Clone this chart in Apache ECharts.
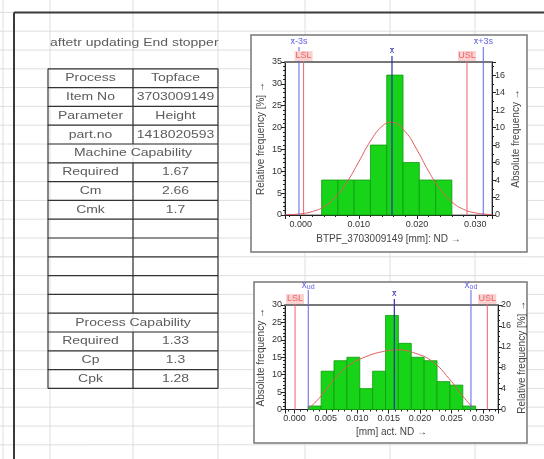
<!DOCTYPE html>
<html>
<head>
<meta charset="utf-8">
<script src="https://cdn.jsdelivr.net/npm/echarts@6/dist/echarts.min.js"></script>
<style>
  html, body { margin: 0; padding: 0; background: #fff; }
  #main { width: 544px; height: 459px; }
</style>
</head>
<body>
<div id="main"></div>
<script>
// sheet content
const sheetTitle = 'aftetr updating End stopper';
const tableLabels = ['Process', 'Item No', 'Parameter', 'part.no', 'Machine Capability', 'Required', 'Cm', 'Cmk',
  '', '', '', '', '', 'Process Capability', 'Required', 'Cp', 'Cpk'];
const tableValues = ['Topface', '3703009149', 'Height', '1418020593', null, '1.67', '2.66', '1.7',
  '', '', '', '', '', null, '1.33', '1.3', '1.28'];

// histogram 1 (relative frequency %)
const h1Edges = [0.0036, 0.0064, 0.0092, 0.0120, 0.0148, 0.0176, 0.0204, 0.0232, 0.0260];
const h1Rel = [8, 8, 8, 16, 32, 12, 8, 8];
const h1CurveX = [-0.0027, -0.002, 0, 0.002, 0.004, 0.006, 0.008, 0.010, 0.012, 0.014, 0.0156, 0.018, 0.020, 0.022, 0.024, 0.026, 0.028, 0.030, 0.032, 0.0329];
const h1CurveY = [0.05, 0.08, 0.28, 0.79, 1.94, 4.13, 7.63, 12.2, 16.9, 20.3, 21.2, 19.0, 14.9, 10.0, 5.9, 3.0, 1.3, 0.5, 0.17, 0.1];
const h1LineNames = ['x\u0304-3s', 'LSL', 'x\u0304', 'USL', 'x\u0304+3s'];
const h1LineKinds = ['sig', 'tol', 'mean', 'tol', 'sig'];
const h1LineX = [-0.0003, 0.0005, 0.0157, 0.0286, 0.0314];

// histogram 2 (absolute frequency)
const h2Edges = [0.0022, 0.00425, 0.0063, 0.00835, 0.0104, 0.01245, 0.0145, 0.01655, 0.0186, 0.02065, 0.0227, 0.02475, 0.0268, 0.02885];
const h2Abs = [1, 11, 14, 15, 6, 11, 27, 19, 15, 14, 8, 7, 1];
const h2CurveX = [0.0022, 0.0034, 0.0050, 0.0066, 0.0087, 0.0113, 0.0140, 0.0164, 0.0193, 0.0220, 0.0246, 0.0268, 0.0284];
const h2CurveY = [0.3, 2.2, 5.6, 9.2, 12.7, 15.1, 16.6, 17.1, 16.1, 13.7, 8.9, 3.8, 0.6];
const h2LineNames = ['LSL', '{b|x}{s|ud}', 'x\u0304', '{b|x}{s|od}', 'USL'];
const h2LineKinds = ['tol', 'sig', 'mean', 'sig', 'tol'];
const h2LineX = [0.0001, 0.0022, 0.0159, 0.0281, 0.0307];

const chart = echarts.init(document.getElementById('main'));
const FONT = '"Liberation Sans", Arial, sans-serif';

// spreadsheet background
const rowY = [];
for (let i = 0; i < 24; i++) rowY.push(12.4 + i * 18.8);
const colX = [3, 50, 133, 218, 305, 390, 475];
const els = [];
rowY.forEach(y => els.push({ type: 'line', z: -10, shape: { x1: 0, y1: y, x2: 544, y2: y }, style: { stroke: '#dedede', lineWidth: 1 } }));
colX.forEach(x => els.push({ type: 'line', z: -10, shape: { x1: x, y1: 0, x2: x, y2: 459 }, style: { stroke: '#dedede', lineWidth: 1 } }));
els.push({ type: 'line', z: -9, shape: { x1: 14, y1: 12.4, x2: 544, y2: 12.4 }, style: { stroke: '#3a3a3a', lineWidth: 2 } });
els.push({ type: 'line', z: -9, shape: { x1: 14, y1: 12.4, x2: 14, y2: 459 }, style: { stroke: '#3a3a3a', lineWidth: 2 } });

// sheet text is a little wider than tall in the screenshot
function cellText(x, y, text, align) {
  return {
    type: 'text', x, y, scaleX: 1.27,
    style: { text, fill: '#5c5c5c', font: '11px ' + FONT, textAlign: align || 'center', textVerticalAlign: 'middle' }
  };
}
els.push(cellText(50, 43, sheetTitle, 'left'));

// table
const tL = 48, tM = 133, tR = 218, r0 = 3;
for (let i = 0; i <= tableLabels.length; i++) {
  const y = rowY[r0 + i];
  els.push({ type: 'line', z: -8, shape: { x1: tL, y1: y, x2: tR, y2: y }, style: { stroke: '#333', lineWidth: 1.2 } });
}
const tTop = rowY[r0], tBot = rowY[r0 + tableLabels.length];
els.push({ type: 'line', z: -8, shape: { x1: tL, y1: tTop, x2: tL, y2: tBot }, style: { stroke: '#333', lineWidth: 1.2 } });
els.push({ type: 'line', z: -8, shape: { x1: tR, y1: tTop, x2: tR, y2: tBot }, style: { stroke: '#333', lineWidth: 1.2 } });
tableLabels.forEach((lab, i) => {
  const y0 = rowY[r0 + i], y1 = rowY[r0 + i + 1], ym = (y0 + y1) / 2;
  if (tableValues[i] === null) {
    els.push(cellText((tL + tR) / 2, ym, lab));
  } else {
    els.push({ type: 'line', z: -8, shape: { x1: tM, y1: y0, x2: tM, y2: y1 }, style: { stroke: '#333', lineWidth: 1.2 } });
    els.push(cellText((tL + tM) / 2, ym, lab));
    els.push(cellText((tM + tR) / 2, ym, tableValues[i]));
  }
});

// chart frames
els.push({ type: 'rect', z: -7, shape: { x: 251, y: 35, width: 276, height: 217 }, style: { fill: '#fff', stroke: '#777', lineWidth: 1.5 } });
els.push({ type: 'rect', z: -7, shape: { x: 254, y: 282, width: 273, height: 161 }, style: { fill: '#fff', stroke: '#777', lineWidth: 1.5 } });

function binData(edges, vals) {
  return vals.map((v, i) => [edges[i], edges[i + 1], v]);
}

function renderBar(params, api) {
  const a = api.coord([api.value(0), api.value(2)]);
  const b = api.coord([api.value(1), 0]);
  return {
    type: 'rect',
    shape: { x: a[0], y: a[1], width: b[0] - a[0], height: b[1] - a[1] },
    style: { fill: '#18d418', stroke: '#0c9a0c', lineWidth: 0.8 }
  };
}

function specRenderer(names, kinds) {
  return function (params, api) {
    const i = params.dataIndex;
    const kind = kinds[i];
    const p = api.coord([api.value(0), 0]);
    const top = params.coordSys.y;
    const col = kind === 'tol' ? '#ee6464' : kind === 'mean' ? '#2e2ea8' : '#6262e6';
    const lift = kind === 'sig' ? 15 : kind === 'mean' ? 6 : 10;
    const kids = [{
      type: 'line',
      shape: { x1: p[0], y1: p[1], x2: p[0], y2: top - lift },
      style: { stroke: col, lineWidth: kind === 'mean' ? 1.2 : 1 }
    }];
    let ty = top - 20;
    if (kind === 'tol') {
      kids.push({ type: 'rect', shape: { x: p[0] - 9, y: top - 11, width: 18, height: 10 }, style: { fill: '#fbd2d2' } });
      ty = top - 6;
    } else if (kind === 'mean') {
      ty = top - 11;
    }
    kids.push({
      type: 'text', x: p[0], y: ty,
      style: {
        text: names[i], fill: col, font: '9px ' + FONT, textAlign: 'center', textVerticalAlign: 'middle',
        rich: { b: { fontSize: 10, fontFamily: FONT }, s: { fontSize: 7, fontFamily: FONT, padding: [4, 0, 0, 0] } }
      }
    });
    return { type: 'group', children: kids };
  };
}

const tickText = { color: '#333', fontSize: 9, fontFamily: FONT };
const nameText = { color: '#444', fontSize: 10, fontFamily: FONT };
function valueX(gridIndex, min, max, split, name, gap) {
  return {
    type: 'value', gridIndex, min, max, splitNumber: split,
    name, nameLocation: 'middle', nameGap: gap, nameTextStyle: nameText,
    axisLine: { onZero: false, lineStyle: { color: '#222', width: 1 } },
    axisTick: { length: 4, lineStyle: { color: '#222' } },
    minorTick: { show: true, splitNumber: 5, length: 2, lineStyle: { color: '#222' } },
    axisLabel: Object.assign({ margin: 5, showMinLabel: false, showMaxLabel: false, formatter: v => v.toFixed(3) }, tickText),
    splitLine: { show: false }
  };
}
function topX(gridIndex, min, max) {
  return {
    type: 'value', gridIndex, min, max, position: 'top',
    axisLine: { onZero: false, lineStyle: { color: '#777', width: 2 } },
    axisTick: { show: false }, axisLabel: { show: false }, splitLine: { show: false }
  };
}
function valueY(gridIndex, pos, max, interval, minorSplit, name) {
  return {
    type: 'value', gridIndex, position: pos, min: 0, max, interval,
    name, nameLocation: 'middle', nameRotate: 90, nameGap: 19, nameTextStyle: nameText,
    axisLine: { show: true, onZero: false, lineStyle: { color: '#222', width: 1 } },
    axisTick: { show: true, length: 4, lineStyle: { color: '#222' } },
    minorTick: { show: true, splitNumber: minorSplit, length: 2, lineStyle: { color: '#222' } },
    axisLabel: Object.assign({ margin: 3, showMaxLabel: max % interval === 0 }, tickText),
    splitLine: { show: false }
  };
}

const option = {
  animation: false,
  backgroundColor: '#fff',
  graphic: { elements: els },
  grid: [
    { left: 285, top: 62, width: 207, height: 153, show: true, borderColor: '#666', borderWidth: 1, backgroundColor: 'transparent' },
    { left: 285, top: 305, width: 213, height: 104.5, show: true, borderColor: '#666', borderWidth: 1, backgroundColor: 'transparent' }
  ],
  xAxis: [
    valueX(0, -0.0027, 0.0329, 4, 'BTPF_3703009149 [mm]: ND \u2192', 19),
    valueX(1, -0.0015, 0.0324, 7, '[mm] act. ND \u2192', 18),
    topX(0, -0.0027, 0.0329),
    topX(1, -0.0015, 0.0324)
  ],
  yAxis: [
    valueY(0, 'left', 35, 5, 5, 'Relative frequency [%] \u2192'),
    valueY(0, 'right', 17.5, 2, 2, 'Absolute frequency \u2192'),
    valueY(1, 'left', 30, 5, 5, 'Absolute frequency \u2192'),
    valueY(1, 'right', 20, 4, 4, 'Relative frequency [%] \u2192')
  ],
  series: [
    {
      type: 'custom', xAxisIndex: 0, yAxisIndex: 0, renderItem: renderBar,
      encode: { x: [0, 1], y: 2 }, data: binData(h1Edges, h1Rel)
    },
    {
      type: 'line', xAxisIndex: 0, yAxisIndex: 0, smooth: true, symbol: 'none',
      lineStyle: { color: '#e05a5a', width: 1 },
      data: h1CurveX.map((x, i) => [x, h1CurveY[i]])
    },
    {
      type: 'custom', xAxisIndex: 0, yAxisIndex: 0, clip: false, z: 5,
      renderItem: specRenderer(h1LineNames, h1LineKinds),
      encode: { x: 0 }, data: h1LineX.map(x => [x])
    },
    {
      type: 'custom', xAxisIndex: 1, yAxisIndex: 2, renderItem: renderBar,
      encode: { x: [0, 1], y: 2 }, data: binData(h2Edges, h2Abs)
    },
    {
      type: 'line', xAxisIndex: 1, yAxisIndex: 2, smooth: true, symbol: 'none',
      lineStyle: { color: '#e05a5a', width: 1 },
      data: h2CurveX.map((x, i) => [x, h2CurveY[i]])
    },
    {
      type: 'custom', xAxisIndex: 1, yAxisIndex: 2, clip: false, z: 5,
      renderItem: specRenderer(h2LineNames, h2LineKinds),
      encode: { x: 0 }, data: h2LineX.map(x => [x])
    }
  ]
};
chart.setOption(option);
</script>
</body>
</html>
